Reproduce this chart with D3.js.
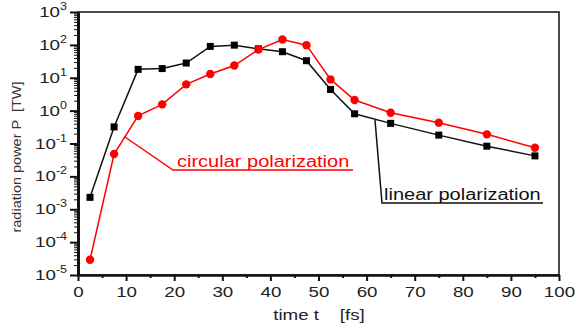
<html>
<head>
<style>
  body { margin: 0; background: white; }
  text { font-family: "Liberation Sans", Arial, sans-serif; }
</style>
</head>
<body>
<svg id="chart" width="576" height="330"></svg>
<script src="https://d3js.org/d3.v7.min.js"></script>
<script>
// time points [fs]
let times = [2.5, 7.5, 12.5, 17.5, 22.5, 27.5, 32.5, 37.5, 42.5, 47.5, 52.5, 57.5, 65, 75, 85, 95]
// radiation power [TW]
let linearP = [0.0023, 0.32, 18, 19, 28, 90, 98, 76, 62, 33, 4.4, 0.8, 0.41, 0.18, 0.083, 0.042]
let circularP = [0.000029, 0.048, 0.69, 1.55, 6.3, 13, 23.5, 72, 145, 98, 8.9, 2.1, 0.86, 0.43, 0.19, 0.074]
let xTicks = [0, 10, 20, 30, 40, 50, 60, 70, 80, 90, 100]
let yExponents = [-5, -4, -3, -2, -1, 0, 1, 2, 3]

let stretch = "scale(1.25,1)"   // the original text is a bit wide
let svg = d3.select("#chart")
let x = d3.scaleLinear().domain([0, 100]).range([78, 559])
let y = d3.scaleLog().domain([1e-5, 1e3]).range([275, 12])

// frame (top / right thin)
svg.append("rect")
   .attr("x", x(0)).attr("y", y(1e3))
   .attr("width", x(100) - x(0)).attr("height", y(1e-5) - y(1e3))
   .attr("fill", "none").attr("stroke", "#111").attr("stroke-width", 1.5)

// x axis
let xAxis = d3.axisBottom(x).tickValues(xTicks).tickSize(6).tickSizeOuter(0).tickPadding(5)
let gx = svg.append("g").attr("transform", "translate(0," + y(1e-5) + ")").call(xAxis)
gx.select(".domain").attr("stroke-width", 2.5).attr("stroke", "#111")
gx.selectAll(".tick line").attr("stroke-width", 2).attr("stroke", "#111")
gx.selectAll(".tick text").attr("font-size", 15).attr("fill", "#222")
   .attr("font-family", "Liberation Sans, Arial, sans-serif")
   .attr("transform", stretch)
let gxMinor = svg.append("g").attr("transform", "translate(0," + y(1e-5) + ")")
   .call(d3.axisBottom(x).tickValues(d3.range(5, 100, 10)).tickSize(3).tickFormat(""))
gxMinor.select(".domain").remove()
gxMinor.selectAll(".tick line").attr("stroke-width", 2).attr("stroke", "#111")

// y axis
let minorVals = []
yExponents.slice(0, -1).forEach(e => { for (let k = 2; k < 10; k++) minorVals.push(k * Math.pow(10, e)) })
let gyMinor = svg.append("g").attr("transform", "translate(" + x(0) + ",0)")
   .call(d3.axisLeft(y).tickValues(minorVals).tickSize(4).tickFormat(""))
gyMinor.select(".domain").remove()
gyMinor.selectAll(".tick line").attr("stroke-width", 1).attr("stroke", "#111")

let yAxis = d3.axisLeft(y).tickValues(yExponents.map(e => Math.pow(10, e))).tickSize(8).tickSizeOuter(0).tickFormat("")
let gy = svg.append("g").attr("transform", "translate(" + x(0) + ",0)").call(yAxis)
gy.select(".domain").attr("stroke-width", 3).attr("stroke", "#111")
gy.selectAll(".tick line").attr("stroke-width", 2).attr("stroke", "#111")

let yLabels = svg.append("g").selectAll("text").data(yExponents).enter()
   .append("text")
   .attr("transform", d => "translate(67," + (y(Math.pow(10, d)) + 5) + ") " + stretch)
   .attr("text-anchor", "end").attr("font-size", 15).attr("fill", "#222")
yLabels.append("tspan").text("10")
yLabels.append("tspan").attr("dy", -7).attr("font-size", 10).text(d => d)

// axis titles
svg.append("text").attr("transform", "translate(319,320) " + stretch).attr("text-anchor", "middle")
   .attr("font-size", 15).attr("fill", "#222").attr("xml:space", "preserve")
   .text("time t    [fs]")
svg.append("text").attr("transform", "translate(21,157) rotate(-90)").attr("text-anchor", "middle")
   .attr("font-size", 13).attr("fill", "#333").attr("xml:space", "preserve")
   .attr("textLength", 151).attr("lengthAdjust", "spacingAndGlyphs")
   .text("radiation power P  [TW]")

// series
let line = d3.line().x(d => x(d[0])).y(d => y(d[1]))
let linData = times.map((t, i) => [t, linearP[i]])
let cirData = times.map((t, i) => [t, circularP[i]])

svg.append("path").datum(linData).attr("d", line)
   .attr("fill", "none").attr("stroke", "#111").attr("stroke-width", 1.5)
svg.append("g").selectAll("rect").data(linData).enter().append("rect")
   .attr("x", d => x(d[0]) - 3.5).attr("y", d => y(d[1]) - 3.5)
   .attr("width", 7).attr("height", 7).attr("fill", "#000")

svg.append("path").datum(cirData).attr("d", line)
   .attr("fill", "none").attr("stroke", "#f00").attr("stroke-width", 1.5)
svg.append("g").selectAll("circle").data(cirData).enter().append("circle")
   .attr("cx", d => x(d[0])).attr("cy", d => y(d[1])).attr("r", 4.2).attr("fill", "#f00")

// annotations
svg.append("polyline").attr("points", "125,137 173,170 353,170")
   .attr("fill", "none").attr("stroke", "#f00").attr("stroke-width", 1.5)
svg.append("text").attr("transform", "translate(177,167) " + stretch).attr("font-size", 16).attr("fill", "#f00")
   .text("circular polarization")

svg.append("polyline").attr("points", "375,120 382,203 543,203")
   .attr("fill", "none").attr("stroke", "#111").attr("stroke-width", 1.5)
svg.append("text").attr("transform", "translate(384,200) " + stretch).attr("font-size", 16).attr("fill", "#111")
   .text("linear polarization")
</script>
</body>
</html>
